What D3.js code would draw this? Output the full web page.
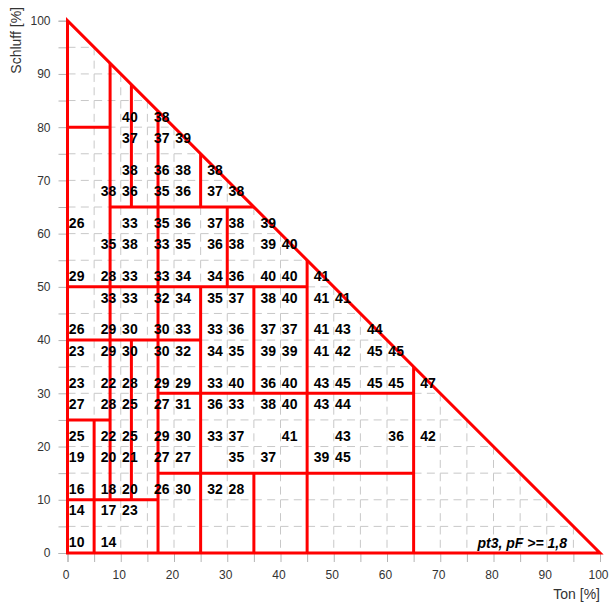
<!DOCTYPE html>
<html><head><meta charset="utf-8">
<script src="https://cdn.jsdelivr.net/npm/d3@7"></script>
<style>body{margin:0;background:#fff}svg{display:block;font-family:"Liberation Sans",Arial,sans-serif}</style>
</head><body><svg id="c" width="612" height="607"></svg>
<script>
// ---- data ----
const axisTicks = [0,5,10,15,20,25,30,35,40,45,50,55,60,65,70,75,80,85,90,95,100];
const gridSteps = [5,10,15,20,25,30,35,40,45,50,55,60,65,70,75,80,85,90,95];
const triangle = [[0,0],[100,0],[0,100]];
// horizontal class boundaries: [silt, clayFrom, clayTo]
const boundaryH = [[80,0,8],[65,8,35],[50,0,45],[40,0,25],[30,17,65],[25,0,8],[15,17,65],[10,0,17]];
// vertical class boundaries: [clay, siltFrom, siltTo]
const boundaryV = [[5,0,25],[8,10,92],[12,10,40],[12,65,88],[17,0,83],[25,0,50],[25,65,75],
                   [30,50,65],[35,0,15],[35,30,50],[45,0,55],[65,0,35]];
const clayCols = [2,8,12,18,22,28,32,38,42,48,52,58,62,68];
const siltRows = [82,78,72,68,62,58,52,48,42,38,32,28,22,18,12,8,2];
const _ = null;
const cellValues = [
  [_,_,40,38,_,_,_,_,_,_,_,_,_,_],
  [_,_,37,37,39,_,_,_,_,_,_,_,_,_],
  [_,_,38,36,38,38,_,_,_,_,_,_,_,_],
  [_,38,36,35,36,37,38,_,_,_,_,_,_,_],
  [26,_,33,35,36,37,38,39,_,_,_,_,_,_],
  [_,35,38,33,35,36,38,39,40,_,_,_,_,_],
  [29,28,33,33,34,34,36,40,40,41,_,_,_,_],
  [_,33,33,32,34,35,37,38,40,41,41,_,_,_],
  [26,29,30,30,33,33,36,37,37,41,43,44,_,_],
  [23,29,30,30,32,34,35,39,39,41,42,45,45,_],
  [23,22,28,29,29,33,40,36,40,43,45,45,45,47],
  [27,28,25,27,31,36,33,38,40,43,44,_,_,_],
  [25,22,25,29,30,33,37,_,41,_,43,_,36,42],
  [19,20,21,27,27,_,35,37,_,39,45,_,_,_],
  [16,18,20,26,30,32,28,_,_,_,_,_,_,_],
  [14,17,23,_,_,_,_,_,_,_,_,_,_,_],
  [10,14,_,_,_,_,_,_,_,_,_,_,_,_]
];
const xTitle = "Ton [%]";
const yTitle = "Schluff [%]";
const note = "pt3, pF >= 1,8";

// ---- drawing ----
const svg = d3.select("#c");
const x = d3.scaleLinear().domain([0,100]).range([67.5,600]);
const y = d3.scaleLinear().domain([0,100]).range([553,20.7]);

svg.append("defs").append("clipPath").attr("id","tri")
  .append("polygon").attr("points", triangle.map(p=>[x(p[0]),y(p[1])].join(",")).join(" "));

const grid = svg.append("g").attr("clip-path","url(#tri)")
  .attr("stroke","#c8c8c8").attr("stroke-width",1).attr("stroke-dasharray","8,5.31");
grid.selectAll("line.h").data(gridSteps).join("line").attr("class","h")
  .attr("x1",x(0)).attr("x2",x(100)).attr("y1",d=>y(d)).attr("y2",d=>y(d));
grid.selectAll("line.v").data(gridSteps).join("line").attr("class","v")
  .attr("x1",d=>x(d)).attr("x2",d=>x(d)).attr("y1",y(100)).attr("y2",y(0));

const fmt = d => d % 10 === 0 ? d : "";
const gx = svg.append("g").attr("transform",`translate(0,${y(0)})`)
  .call(d3.axisBottom(x).tickValues(axisTicks).tickSize(9).tickPadding(8).tickFormat(fmt));
const gy = svg.append("g").attr("transform",`translate(${x(0)},0)`)
  .call(d3.axisLeft(y).tickValues(axisTicks).tickSize(9).tickPadding(8).tickFormat(fmt));
[gx,gy].forEach(g=>{
  g.selectAll("line").attr("stroke","#b4b4b4");
  g.select(".domain").attr("stroke","#b4b4b4");
  g.selectAll("text").attr("fill","#333").attr("font-size",12).attr("font-family","Liberation Sans, Arial, sans-serif");
});
gx.selectAll("text").attr("dx",-2);

const red = svg.append("g").attr("stroke","#ff0000").attr("stroke-width",3).attr("fill","none");
red.selectAll("line.h").data(boundaryH).join("line").attr("class","h")
  .attr("x1",d=>x(d[1])).attr("x2",d=>x(d[2])).attr("y1",d=>y(d[0])).attr("y2",d=>y(d[0]));
red.selectAll("line.v").data(boundaryV).join("line").attr("class","v")
  .attr("x1",d=>x(d[0])).attr("x2",d=>x(d[0])).attr("y1",d=>y(d[1])).attr("y2",d=>y(d[2]));
red.append("polygon").attr("stroke-linejoin","miter")
  .attr("points", triangle.map(p=>[x(p[0]),y(p[1])].join(",")).join(" "));

const cells = [];
siltRows.forEach((s,i)=>clayCols.forEach((c,j)=>{
  const v = cellValues[i][j];
  if (v !== null) cells.push({c,s,v});
}));
svg.append("g").attr("font-size",14).attr("font-weight","bold").attr("fill","#000")
  .attr("text-anchor","middle")
  .selectAll("text").data(cells).join("text")
  .attr("x",d=>x(d.c)-1.5).attr("y",d=>y(d.s)).attr("dy","0.36em").text(d=>d.v);

svg.append("text").attr("x",567).attr("y",547.5).attr("text-anchor","end")
  .attr("font-size",14).attr("font-weight","bold").attr("font-style","italic").text(note);

svg.append("text").attr("x",600).attr("y",599).attr("text-anchor","end")
  .attr("font-size",14).attr("fill","#333").text(xTitle);
svg.append("text").attr("transform","translate(20.5,7) rotate(-90)").attr("text-anchor","end")
  .attr("font-size",14).attr("fill","#333").text(yTitle);
</script></body></html>
